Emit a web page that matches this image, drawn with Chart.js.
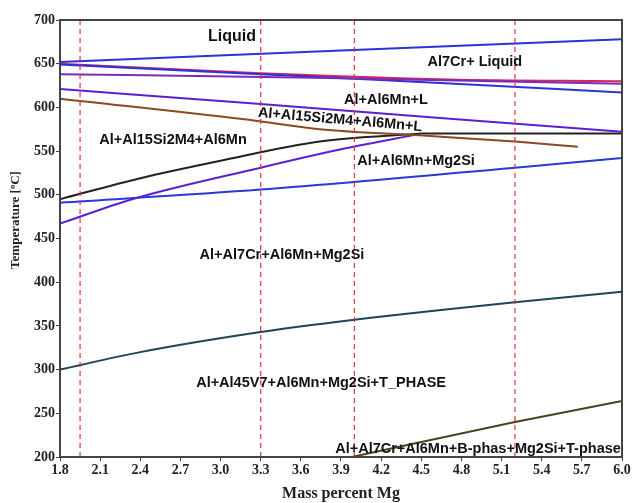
<!DOCTYPE html>
<html>
<head>
<meta charset="utf-8">
<script src="https://cdn.jsdelivr.net/npm/chart.js@4/dist/chart.umd.min.js"></script>
<style>
  html, body { margin:0; padding:0; background:#fff; }
  #wrap { width:635px; height:503px; }
</style>
</head>
<body>
<div id="wrap"><canvas id="c" width="635" height="503"></canvas></div>
<script>
// ── data (Mass percent Mg vs Temperature °C) ──
const xTicks = [1.8, 2.1, 2.4, 2.7, 3.0, 3.3, 3.6, 3.9, 4.2, 4.5, 4.8, 5.1, 5.4, 5.7, 6.0];
const yTicks = [200, 250, 300, 350, 400, 450, 500, 550, 600, 650, 700];

const liqX    = [1.8, 6.0];
const liqT    = [652, 678];
const al6mnX  = [1.8, 3.3, 4.64, 6.0];
const al6mnT  = [649, 638, 628, 617];
const redX    = [1.8, 3.3, 4.7, 6.0];
const redT    = [650, 639, 632, 630];
const purpAX  = [1.8, 3.7, 6.0];
const purpAT  = [638, 634, 627];
const purpBX  = [1.8, 3.2, 4.64, 6.0];
const purpBT  = [621, 605, 588, 572];
const orangeX = [1.8, 3.3, 3.74, 4.49, 5.2, 5.67];
const orangeT = [610, 584, 575, 568, 561, 555];
const flatX   = [4.5, 6.0];
const flatT   = [570, 570];
const blackX  = [1.8, 2.4, 3.0, 3.74, 4.5];
const blackT  = [495, 519, 539, 561, 570];
const purpCX  = [1.8, 2.34, 3.3, 3.9, 4.5];
const purpCT  = [467, 495, 531, 552, 570];
const mg2siX  = [1.8, 3.3, 5.2, 6.0];
const mg2siT  = [491, 506, 531, 542];
const tealX   = [1.8, 2.4, 3.3, 4.0, 5.2, 6.0];
const tealT   = [300, 320, 343, 357, 377, 389];
const oliveX  = [3.98, 5.2, 6.0];
const oliveT  = [200, 240, 264];
const dashX   = [1.95, 3.3, 4.0, 5.2];

const phaseNames = ['Liquid', 'Al7Cr+ Liquid', 'Al+Al6Mn+L', 'Al+Al15Si2M4+Al6Mn+L', 'Al+Al15Si2M4+Al6Mn',
  'Al+Al6Mn+Mg2Si', 'Al+Al7Cr+Al6Mn+Mg2Si', 'Al+Al45V7+Al6Mn+Mg2Si+T_PHASE', 'Al+Al7Cr+Al6Mn+B-phas+Mg2Si+T-phase'];
const phaseMg   = [3.085, 4.90, 4.236, 3.893, 2.645, 4.461, 3.459, 3.751, 4.924];
const phaseT    = [680.5, 652, 608.5, 585.6, 562.7, 538.7, 431.1, 284.7, 209.1];

const pts = (xs, ys) => xs.map((x, i) => ({ x, y: ys[i] }));

function line(xs, ys, color) {
  return { data: pts(xs, ys), borderColor: color, borderWidth: 2, pointRadius: 0,
           cubicInterpolationMode: 'monotone', fill: false };
}

const datasets = [];
dashX.forEach(x => datasets.push({
  data: [{ x, y: 200 }, { x, y: 700 }], borderColor: '#e8303c', borderWidth: 1.2,
  borderDash: [5, 4], pointRadius: 0, fill: false
}));
datasets.push(
  line(liqX, liqT, '#2a32dc'),
  line(purpAX, purpAT, '#7a2bb8'),
  line(al6mnX, al6mnT, '#2a32dc'),
  line(redX, redT, '#d8245c'),
  line(purpBX, purpBT, '#5a20d0'),
  line(orangeX, orangeT, '#8c4a22'),
  line(flatX, flatT, '#222222'),
  line(blackX, blackT, '#222222'),
  line(purpCX, purpCT, '#5a20d6'),
  line(mg2siX, mg2siT, '#2a38d8'),
  line(tealX, tealT, '#1c4656'),
  line(oliveX, oliveT, '#4a4222')
);

const serif = '"Liberation Serif", "Times New Roman", serif';

const boxAndLabels = {
  id: 'boxAndLabels',
  afterDatasetsDraw(chart) {
    const { ctx, chartArea: a, scales: { x, y } } = chart;
    ctx.save();
    ctx.fillStyle = '#111';
    ctx.textAlign = 'center';
    ctx.textBaseline = 'middle';
    phaseNames.forEach((t, i) => {
      const px = x.getPixelForValue(phaseMg[i]), py = y.getPixelForValue(phaseT[i]);
      ctx.font = 'bold ' + (i === 0 ? 16 : 14.5) + 'px "Liberation Sans", Arial, sans-serif';
      ctx.save();
      ctx.translate(px, py);
      if (i === 3) ctx.rotate(5 * Math.PI / 180);
      ctx.fillText(t, 0, 0);
      ctx.restore();
    });
    ctx.strokeStyle = '#444';
    ctx.lineWidth = 2;
    ctx.strokeRect(a.left, a.top, a.right - a.left, a.bottom - a.top);
    // y axis title
    ctx.save();
    ctx.translate(16, 220);
    ctx.rotate(-Math.PI / 2);
    ctx.fillStyle = '#222';
    ctx.font = 'bold 13px ' + serif;
    ctx.fillText('Temperature [ºC]', 0, 0);
    ctx.restore();
    ctx.restore();
  }
};

new Chart(document.getElementById('c'), {
  type: 'line',
  data: { datasets },
  options: {
    responsive: false,
    animation: false,
    layout: { padding: { top: 20, right: 13, left: 0, bottom: 0 } },
    plugins: { legend: { display: false }, tooltip: { enabled: false } },
    scales: {
      x: {
        type: 'linear', min: 1.8, max: 6.0,
        afterBuildTicks: s => { s.ticks = xTicks.map(v => ({ value: v })); },
        afterFit: s => { s.height = 46; },
        ticks: { color: '#222', font: { family: serif, size: 14, weight: 'bold' }, padding: 1,
                 maxRotation: 0, autoSkip: false, callback: v => v.toFixed(1) },
        grid: { drawOnChartArea: false, drawTicks: true, tickLength: 4, color: '#444' },
        border: { color: '#444', width: 2 },
        title: { display: true, text: 'Mass percent Mg', color: '#222',
                 font: { family: serif, size: 16, weight: 'bold' }, padding: { top: 1, bottom: 0 } }
      },
      y: {
        type: 'linear', min: 200, max: 700,
        afterBuildTicks: s => { s.ticks = yTicks.map(v => ({ value: v })); },
        afterFit: s => { s.width = 60; },
        ticks: { color: '#222', font: { family: serif, size: 14, weight: 'bold' }, padding: 1 },
        grid: { drawOnChartArea: false, drawTicks: true, tickLength: 4, color: '#444' },
        border: { color: '#444', width: 2 },
        title: { display: false }
      }
    }
  },
  plugins: [boxAndLabels]
});
</script>
</body>
</html>
